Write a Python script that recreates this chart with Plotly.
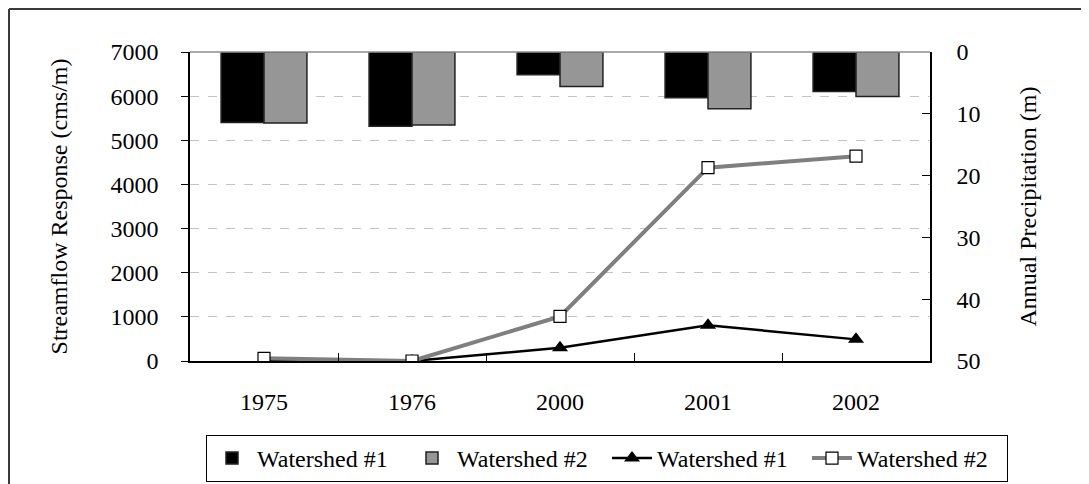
import plotly.graph_objects as go

years = ["1975", "1976", "2000", "2001", "2002"]

# annual precipitation (m), drawn as bars hanging from the top (right axis)
precip_ws1 = [11.4, 12.0, 3.7, 7.4, 6.4]
precip_ws2 = [11.5, 11.8, 5.6, 9.2, 7.2]

# streamflow response (cms/m), left axis
flow_ws1 = [0, 0, 300, 810, 490]
flow_ws2 = [60, 0, 1010, 4380, 4640]

serif = "Liberation Serif, Times New Roman, serif"
fs = 24

fig = go.Figure()
fig.add_trace(go.Bar(x=years, y=precip_ws1, name="Watershed #1", yaxis="y2",
                     marker=dict(color="black", line=dict(color="#222222", width=1.5))))
fig.add_trace(go.Bar(x=years, y=precip_ws2, name="Watershed #2", yaxis="y2",
                     marker=dict(color="#969696", line=dict(color="#222222", width=1.5))))
fig.add_trace(go.Scatter(x=years, y=flow_ws1, name="Watershed #1", mode="lines+markers",
                         line=dict(color="black", width=2.5),
                         marker=dict(symbol="triangle-up", size=14, color="black")))
fig.add_trace(go.Scatter(x=years, y=flow_ws2, name="Watershed #2", mode="lines+markers",
                         line=dict(color="#7f7f7f", width=4),
                         marker=dict(symbol="square", size=12, color="white",
                                     line=dict(color="black", width=1.2))))

# the page body has an 8px margin; plot area in window pixels: x 190..930, y 52..361
OFF = 8
def px(x):
    return (x - 190) / 740

def py(y):
    return (361 - y) / 309

fig.update_layout(
    width=1089, height=484,
    margin=dict(l=190 - OFF, r=1089 - (930 - OFF), t=52 - OFF, b=484 - (361 - OFF), autoexpand=False),
    paper_bgcolor="white", plot_bgcolor="white",
    font=dict(family=serif, size=fs, color="black"),
    barmode="group", bargap=0.42, bargroupgap=0,
    xaxis=dict(showline=True, linecolor="black", linewidth=1.5, ticks="inside",
               tickson="boundaries", ticklen=8, tickcolor="black", showgrid=False,
               tickfont=dict(size=fs), ticklabelstandoff=18, automargin=False),
    yaxis=dict(range=[0, 7000], dtick=1000, showline=True, linecolor="black", linewidth=1.5,
               ticks="outside", ticklen=7, tickcolor="black", tickfont=dict(size=fs),
               ticklabelstandoff=18, automargin=False,
               showgrid=True, gridcolor="#c4c4c4", griddash="dash", gridwidth=1,
               zeroline=False,
               title=dict(text="Streamflow Response (cms/m)", standoff=36, font=dict(size=fs))),
    yaxis2=dict(range=[50, 0], dtick=10, overlaying="y", side="right", showline=True,
                linecolor="black", linewidth=1.5, ticks="inside", ticklen=8, tickcolor="black",
                tickfont=dict(size=fs), ticklabelstandoff=20, automargin=False,
                showgrid=False, zeroline=False,
                title=dict(text="Annual Precipitation (m)", standoff=40, font=dict(size=fs))),
    # anchored by its right edge, beyond the plot's right side, so it may span wider than the plot
    legend=dict(orientation="h", xref="paper", yref="paper",
                x=px(1008), y=py(435), xanchor="right", yanchor="top",
                bordercolor="black", borderwidth=1, bgcolor="white",
                font=dict(size=fs), traceorder="normal", itemwidth=40,
                entrywidth=145, entrywidthmode="pixels"),
    showlegend=True,
)

# gray top edge of plot area and outer frame
fig.add_shape(type="line", xref="paper", yref="paper", x0=0, x1=1, y0=1, y1=1,
              line=dict(color="#8c8c8c", width=1.5))
fig.add_shape(type="line", xref="paper", yref="paper", x0=px(9), x1=px(9), y0=py(9), y1=py(700),
              line=dict(color="#3a3a3a", width=2))
fig.add_shape(type="line", xref="paper", yref="paper", x0=px(9), x1=px(1300), y0=py(9), y1=py(9),
              line=dict(color="#3a3a3a", width=2))

fig.write_html("out.html")
